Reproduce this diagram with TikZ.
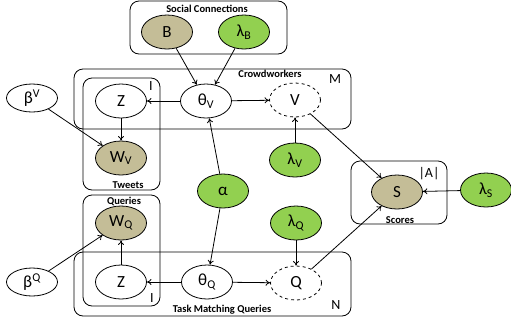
\documentclass[tikz,border=0pt]{standalone}
\usepackage{fontspec}
\setmainfont{Carlito}
\usetikzlibrary{shapes.geometric,arrows.meta}
\definecolor{obsfill}{HTML}{C4BD97}
\definecolor{hypfill}{HTML}{92D050}
\begin{document}
\begin{tikzpicture}[x=1pt,y=-1pt,line width=0.8pt,
    var/.style={draw,ellipse,minimum width=51pt,minimum height=34pt,inner sep=0pt,
      font=\fontsize{17}{17}\selectfont},
    prior/.style={var,minimum height=28pt},
    obs/.style={var,fill=obsfill},
    hyper/.style={var,fill=hypfill},
    latent/.style={var,dashed},
    plate/.style={draw,rounded corners=9pt},
    platelabel/.style={font=\bfseries\fontsize{10.5}{10.5}\selectfont},
    platecount/.style={font=\fontsize{14}{14}\selectfont},
    edge/.style={-{To[length=4.5pt,width=6pt]}}]
    \useasboundingbox (0,0) rectangle (511,327);

    % Draw the plates
    \draw[plate] (130,1) rectangle (287,54);
    \draw[plate] (74,69) rectangle (351,129);
    \draw[plate] (83,78) rectangle (160,190);
    \draw[plate] (83,195) rectangle (160,306);
    \draw[plate] (74,252) rectangle (351,316);
    \draw[plate] (351,161) rectangle (447,224);

    % Plate labels
    \node[platelabel] (social) at (207,9) {Social Connections};
    \node[platelabel] (crowd) at (270,74) {Crowdworkers};
    \node[platelabel] (tweets) at (128,185) {Tweets};
    \node[platelabel] (queries) at (124,201) {Queries};
    \node[platelabel] (task) at (222,310) {Task Matching Queries};
    \node[platelabel] (scores) at (400,220) {Scores};
    \node[platecount] (M) at (335,79) {M};
    \node[platecount] (N) at (336,305) {N};
    \node[platecount] (A) at (429,174) {|A|};
    \node[platecount] (Itop) at (151,86) {I};
    \node[platecount] (Ibot) at (152,298) {I};

    % Draw the variables
    \node[obs] (B) at (167,32) {B};
    \node[hyper] (lamB) at (244,32) {λ\textsubscript{B}};
    \node[var] (Zv) at (121,101) {Z};
    \node[var] (thetaV) at (206,101) {θ\textsubscript{V}};
    \node[latent] (V) at (295,100) {V};
    \node[prior] (betaV) at (32,98) {β\textsuperscript{V}};
    \node[obs] (Wv) at (121,158) {W\textsubscript{V}};
    \node[hyper] (lamV) at (295,160) {λ\textsubscript{V}};
    \node[hyper] (alpha) at (223,191) {α};
    \node[obs] (S) at (397,192) {S};
    \node[hyper] (lamS) at (486,190) {λ\textsubscript{S}};
    \node[hyper] (lamQ) at (296,223) {λ\textsubscript{Q}};
    \node[obs] (Wq) at (121,223) {W\textsubscript{Q}};
    \node[prior] (betaQ) at (32,282) {β\textsuperscript{Q}};
    \node[var] (Zq) at (121,282) {Z};
    \node[var] (thetaQ) at (207,282) {θ\textsubscript{Q}};
    \node[latent] (Q) at (296,283) {Q};

    % Draw the edges
    \foreach \from/\to in {B/thetaV, lamB/thetaV, thetaV/Zv, thetaV/V, Zv/Wv,
        betaV/Wv, alpha/thetaV, alpha/thetaQ, lamV/V, V/S, Q/S, lamS/S,
        thetaQ/Zq, thetaQ/Q, Zq/Wq, betaQ/Wq, lamQ/Q}
    \draw[edge] (\from) -- (\to);
\end{tikzpicture}
\end{document}
